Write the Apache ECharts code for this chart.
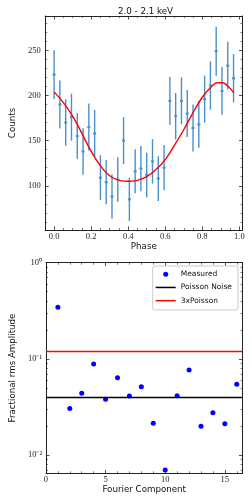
<!DOCTYPE html>
<html><head><meta charset="utf-8">
<script src="https://cdn.jsdelivr.net/npm/echarts@6/dist/echarts.min.js"></script>
<style>html,body{margin:0;padding:0;background:#fff}#c{width:252px;height:504px}</style>
</head><body><div id="c"></div><script>
// ---- data ----
const chartTitle = '2.0 - 2.1 keV';
const phase = [0, 0.03125, 0.0625, 0.09375, 0.125, 0.15625, 0.1875, 0.21875,
  0.25, 0.28125, 0.3125, 0.34375, 0.375, 0.40625, 0.4375, 0.46875,
  0.5, 0.53125, 0.5625, 0.59375, 0.625, 0.65625, 0.6875, 0.71875,
  0.75, 0.78125, 0.8125, 0.84375, 0.875, 0.90625, 0.9375, 0.96875];
const counts = [223, 190, 170, 176, 155, 138, 165, 158,
  109, 104, 88, 107, 150, 85, 116, 119,
  112, 127, 108, 120, 194, 177, 194, 180,
  164, 168, 196, 211, 249, 205, 233, 219];
const countErr = [27, 26.5, 25.7, 26, 25.5, 25.7, 26, 26,
  24.8, 24.6, 24.6, 24.6, 26, 24, 24.3, 25,
  24.6, 24.6, 24.8, 25, 26.5, 25.7, 26, 26,
  26, 26, 26, 26.7, 27.2, 26.5, 26.5, 26.7];
const modelPhase = [0, 0.05, 0.1, 0.15, 0.2, 0.25, 0.3, 0.35, 0.4, 0.45, 0.5, 0.55,
  0.6, 0.65, 0.7, 0.75, 0.8, 0.85, 0.88, 0.91, 0.94, 0.97];
const modelCounts = [204, 192, 177, 158, 138, 122, 111, 106, 105, 106, 110, 118,
  129, 145, 162, 181, 198, 210, 214, 214, 210, 203];
const phaseTicks = [0, 0.2, 0.4, 0.6, 0.8, 1.0];
const countTicks = [100, 150, 200, 250];

const component = [1, 2, 3, 4, 5, 6, 7, 8, 9, 10, 11, 12, 13, 14, 15, 16];
const rmsAmp = [0.344, 0.0304, 0.0439, 0.0885, 0.038, 0.0638, 0.0411, 0.0514,
  0.0214, 0.0070, 0.0414, 0.0767, 0.0199, 0.0276, 0.0212, 0.0544];
const poissonNoise = 0.0399;
const threePoisson = 0.1197;
const compTicks = [0, 5, 10, 15];
const ampTicks = [0.01, 0.1, 1];

// ---- helpers ----
const AX = '#222';
const tickFont = {fontFamily: 'Liberation Serif', fontSize: 8.5, color: '#222'};
const nameFont = {fontFamily: 'DejaVu Sans', fontSize: 8.7, color: '#111'};
function minorBetween(lo, hi, step, majors) {
  const out = [];
  for (let v = lo; v <= hi + 1e-9; v += step) {
    const r = Math.round(v * 1e6) / 1e6;
    if (!majors.some(m => Math.abs(m - r) < 1e-9)) out.push(r);
  }
  return out;
}
function axisSet(kind, grid, pos, type, min, max, majors, minors, label, extra) {
  const base = {type: type, gridIndex: grid, position: pos, min: min, max: max,
    splitLine: {show: false}, silent: true};
  if (type === 'log') base.logBase = 10;
  const major = Object.assign({}, base, {
    axisLine: {show: true, onZero: false, lineStyle: {color: AX, width: 1}},
    axisTick: {show: true, inside: true, length: 3.5, customValues: majors, lineStyle: {color: AX, width: 0.8}},
    axisLabel: label ? Object.assign({show: true, customValues: majors}, tickFont, label) : {show: false}
  }, extra || {});
  const minor = Object.assign({}, base, {
    axisLine: {show: false, onZero: false},
    axisTick: {show: true, inside: true, length: 2, customValues: minors, lineStyle: {color: AX, width: 0.6}},
    axisLabel: {show: false}
  });
  return [major, minor];
}

const xMin0 = -0.0484, xMax0 = 1.0171, yMin0 = 51, yMax0 = 288;
const xMin1 = 0, xMax1 = 16.48, yMin1 = 0.00646, yMax1 = 1;
const phaseMinor = minorBetween(0, 1, 0.05, phaseTicks);
const countMinor = minorBetween(60, 280, 10, countTicks);
const compMinor = minorBetween(0, 16, 1, compTicks);
const ampMinor = [0.007, 0.008, 0.009, 0.02, 0.03, 0.04, 0.05, 0.06, 0.07, 0.08, 0.09,
  0.2, 0.3, 0.4, 0.5, 0.6, 0.7, 0.8, 0.9];

const supMap = {'0': '10⁰', '-1': '10⁻¹', '-2': '10⁻²'};

const xAxes = [].concat(
  axisSet('x', 0, 'bottom', 'value', xMin0, xMax0, phaseTicks, phaseMinor,
    {margin: 2, formatter: v => Number(v).toFixed(1)},
    {name: 'Phase', nameLocation: 'middle', nameGap: 12, nameTextStyle: nameFont}),
  axisSet('x', 0, 'top', 'value', xMin0, xMax0, phaseTicks, phaseMinor, null),
  axisSet('x', 1, 'bottom', 'value', xMin1, xMax1, compTicks, compMinor,
    {margin: 1.5, formatter: v => String(Math.round(v))},
    {name: 'Fourier Component', nameLocation: 'middle', nameGap: 12, nameTextStyle: nameFont}),
  axisSet('x', 1, 'top', 'value', xMin1, xMax1, compTicks, compMinor, null)
);
const yAxes = [].concat(
  axisSet('y', 0, 'left', 'value', yMin0, yMax0, countTicks, countMinor,
    {margin: 4.5, formatter: v => String(Math.round(v))},
    {name: 'Counts', nameLocation: 'middle', nameGap: 18, nameRotate: 90, nameTextStyle: nameFont}),
  axisSet('y', 0, 'right', 'value', yMin0, yMax0, countTicks, countMinor, null),
  axisSet('y', 1, 'left', 'log', yMin1, yMax1, ampTicks, ampMinor,
    {margin: 4, formatter: v => supMap[String(Math.round(Math.log10(v)))] || ''},
    {name: 'Fractional rms Amplitude', nameLocation: 'middle', nameGap: 24.5, nameRotate: 90, nameTextStyle: nameFont}),
  axisSet('y', 1, 'right', 'log', yMin1, yMax1, ampTicks, ampMinor, null)
);

const errColor = '#4a90c9';
const lineIcon = 'path://M0,0 L40,0 L40,3 L0,3 Z';
const chart = echarts.init(document.getElementById('c'), null, {renderer: 'canvas'});
chart.setOption({
  animation: false,
  backgroundColor: '#fff',
  title: {text: chartTitle, left: 140.5, textAlign: 'center', top: 2.5,
    textStyle: {fontFamily: 'DejaVu Sans', fontSize: 8.7, fontWeight: 'normal', color: '#111'}},
  grid: [
    {left: 38, top: 16, width: 204.5, height: 214},
    {left: 38, top: 262.7, width: 204.5, height: 210.6}
  ],
  xAxis: xAxes,
  yAxis: yAxes,
  legend: {
    orient: 'vertical', left: 152.7, top: 266,
    data: [
      {name: 'Measured', icon: 'circle', itemStyle: {color: '#0000ff', opacity: 1}},
      {name: 'Poisson Noise', icon: lineIcon, itemStyle: {color: '#000000'}},
      {name: '3xPoisson', icon: lineIcon, itemStyle: {color: '#ff0000'}}
    ],
    itemWidth: 20, itemHeight: 5, itemGap: 3.7,
    padding: [3.5, 6, 4.5, 3],
    textStyle: {fontFamily: 'DejaVu Sans', fontSize: 7.5, color: '#111', lineHeight: 9.5},
    backgroundColor: '#fff', borderColor: '#cccccc', borderWidth: 1, borderRadius: 2,
    selectedMode: false
  },
  series: [
    {
      name: 'errors', type: 'custom', xAxisIndex: 0, yAxisIndex: 0, z: 2,
      data: phase.map((p, i) => [p, counts[i], countErr[i]]),
      encode: {x: 0, y: 1},
      renderItem: function (params, api) {
        const x = api.value(0), y = api.value(1), e = api.value(2);
        const t = api.coord([x, y + e]), b = api.coord([x, y - e]), c = api.coord([x, y]);
        return {type: 'group', children: [
          {type: 'line', shape: {x1: t[0], y1: t[1], x2: b[0], y2: b[1]},
            style: {stroke: errColor, lineWidth: 1.4}},
          {type: 'rect', shape: {x: c[0] - 1.5, y: c[1] - 1, width: 3, height: 2},
            style: {fill: errColor}}
        ]};
      }
    },
    {
      name: 'model', type: 'line', xAxisIndex: 0, yAxisIndex: 0, z: 3,
      data: modelPhase.map((p, i) => [p, modelCounts[i]]),
      smooth: 0.3, symbol: 'none', lineStyle: {color: '#ff0000', width: 1.4}
    },
    {
      name: 'Measured', type: 'scatter', xAxisIndex: 4, yAxisIndex: 4, z: 4,
      data: component.map((c, i) => [c, rmsAmp[i]]),
      symbol: 'circle', symbolSize: 5, itemStyle: {color: '#0000ff', opacity: 1}
    },
    {
      name: 'Poisson Noise', type: 'line', xAxisIndex: 4, yAxisIndex: 4, z: 3,
      data: [], symbol: 'none', color: '#000000', lineStyle: {color: '#000000', width: 1.4},
      markLine: {silent: true, symbol: ['none', 'none'], label: {show: false},
        lineStyle: {color: '#000000', width: 1.4, type: 'solid'},
        data: [{yAxis: poissonNoise}]}
    },
    {
      name: '3xPoisson', type: 'line', xAxisIndex: 4, yAxisIndex: 4, z: 3,
      data: [], symbol: 'none', color: '#ff0000', lineStyle: {color: '#ff0000', width: 1.4},
      markLine: {silent: true, symbol: ['none', 'none'], label: {show: false},
        lineStyle: {color: '#ff0000', width: 1.4, type: 'solid'},
        data: [{yAxis: threePoisson}]}
    }
  ]
});
</script></body></html>
